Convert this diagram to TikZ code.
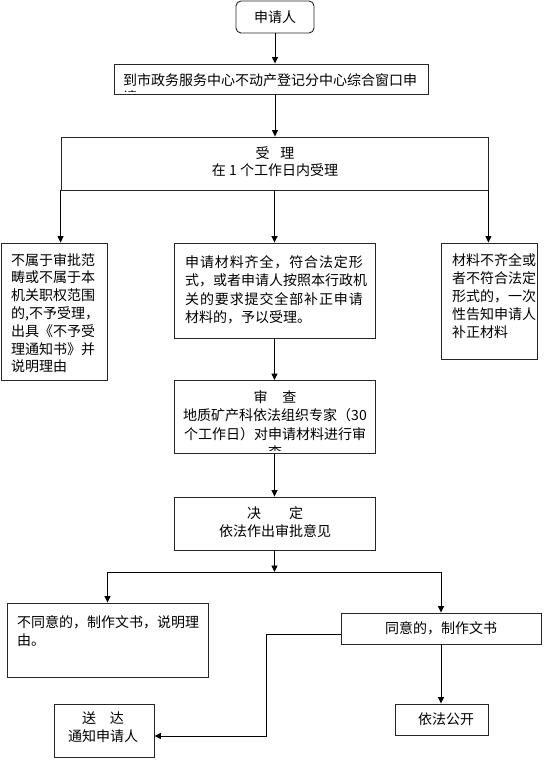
\documentclass[tikz,border=0pt]{standalone}
\usepackage{fontspec}
\setmainfont{Noto Sans CJK SC}
\usetikzlibrary{arrows.meta}
\begin{document}
\begin{tikzpicture}[x=1pt,y=-1pt,
  box/.style={draw=black!85, line width=0.9pt, inner sep=0pt, rectangle, font=\fontsize{14pt}{18pt}\selectfont},
  txt/.style={inner sep=0pt, font=\fontsize{14pt}{18pt}\selectfont},
  arr/.style={draw=black, line width=0.9pt, -{Triangle[width=6pt,length=6.5pt]}},
  ln/.style={draw=black, line width=0.9pt}]
\useasboundingbox[fill=white] (0,0) rectangle (553,760);

% boxes
\node[box, rounded corners=5pt, minimum width=78pt, minimum height=32pt] (A) at (275,17) {申请人};
\node[box, minimum width=314pt, minimum height=30pt] (B) at (271,79) {};
\begin{scope}
\clip (115,65) rectangle (427,91);
\node[txt, anchor=north west, align=left, font=\fontsize{14pt}{17pt}\selectfont] (Bt) at (123,73) {到市政务服务中心不动产登记分中心综合窗口申\\请};
\end{scope}

\node[box, minimum width=427pt, minimum height=53pt] (C) at (274.5,163.5) {};
\node[txt, align=center, font=\fontsize{14pt}{17pt}\selectfont] (Ct) at (275,161.5) {受\hspace{11pt}理\\在 1 个工作日内受理};

\node[box, minimum width=106pt, minimum height=137pt] (L) at (54,311.5) {};
\node[txt, anchor=north west, align=left, font=\fontsize{14pt}{17.8pt}\selectfont] (Lt) at (11,253) {不属于审批范\\畴或不属于本\\机关职权范围\\的,不予受理，\\出具《不予受\\理通知书》并\\说明理由};

\node[box, minimum width=201pt, minimum height=95pt] (M) at (274.5,290.5) {};
\node[txt, anchor=north west, align=left, font=\fontsize{14pt}{18.5pt}\selectfont] (Mt) at (185,255) {{\addfontfeature{LetterSpace=6.2}申请材料齐全，符合法定形}\\式，或者申请人按照本行政机\\{\addfontfeature{LetterSpace=6.2}关的要求提交全部补正申请}\\材料的，予以受理。};

\node[box, minimum width=96pt, minimum height=116pt] (R) at (489,301) {};
\node[txt, anchor=north west, align=left] (Rt) at (452,253) {材料不齐全或\\者不符合法定\\形式的，一次\\性告知申请人\\补正材料};

\node[box, minimum width=201pt, minimum height=73pt] (S) at (274.5,417) {};
\begin{scope}
\clip (175,381) rectangle (374,450.5);
\node[txt, anchor=north, align=center, font=\fontsize{14pt}{18.5pt}\selectfont] (St) at (275,390) {审\hspace{15pt}查\\地质矿产科依法组织专家（30\\个工作日）对申请材料进行审\\查};
\end{scope}

\node[box, minimum width=201pt, minimum height=53pt] (D) at (274.5,523.5) {};
\node[txt, align=center] (Dt) at (275,522.5) {决\hspace{28pt}定\\依法作出审批意见};

\node[box, minimum width=201pt, minimum height=74pt] (N) at (107.5,640) {};
\node[txt, anchor=north west, align=left] (Nt) at (17,615) {不同意的，制作文书，说明理\\由。};

\node[box, minimum width=200pt, minimum height=31pt] (Y) at (441,628.5) {同意的，制作文书};
\node[box, minimum width=93pt, minimum height=31pt] (G) at (441.5,719.5) {\hspace{9pt}依法公开};

\node[box, minimum width=100pt, minimum height=53pt] (E) at (104,730.5) {};
\node[txt, align=center] (Et) at (103,727.5) {送\hspace{14pt}达\\通知申请人};

% connectors
\draw[arr] (A.south) -- (A.south |- B.north);
\draw[arr] (A.south |- B.south) -- (A.south |- C.north);
\draw[arr] (C.south west) -- (C.south west |- L.north);
\draw[arr] (C.south) -- (C.south |- M.north);
\draw[arr] (C.south east) -- (C.south east |- R.north);
\draw[arr] (M.south) -- (S.north);
\draw[arr] (S.south) -- (D.north);
\coordinate (J) at (274.5,572);
\draw[arr] (D.south) -- (J);
\draw[ln] (N.north |- J) -- (Y.north |- J);
\draw[arr] (N.north |- J) -- (N.north);
\draw[arr] (Y.north |- J) -- (Y.north);
\draw[arr] (Y.south) -- (Y.south |- G.north);
\draw[arr] ([yshift=-6pt]Y.west) -- ++(-74,0) |- ([yshift=-5.5pt]E.east);
\end{tikzpicture}
\end{document}
